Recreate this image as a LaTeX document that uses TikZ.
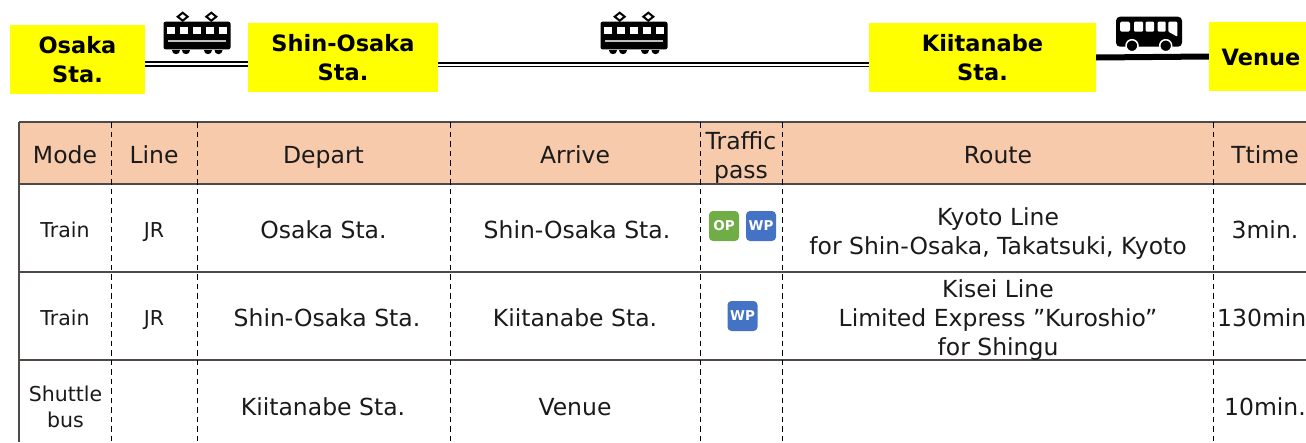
\documentclass[tikz,border=0pt]{standalone}
\usepackage{fontspec}
\setmainfont{DejaVu Sans}
\usetikzlibrary{calc}
\definecolor{stationyellow}{HTML}{FFFF00}
\definecolor{headfill}{HTML}{F7CAAC}
\definecolor{rulegray}{HTML}{4F4A48}
\definecolor{opgreen}{HTML}{70AD47}
\definecolor{wpblue}{HTML}{4472C4}
\definecolor{txt}{HTML}{1A1A1A}
\newcommand{\fs}[2]{\fontsize{#1}{#2}\selectfont}
\tikzset{
  x=1pt,y=-1pt,
  station/.style={fill=stationyellow,inner sep=0pt,align=center,font=\fs{22.5}{29}\bfseries,text=black,minimum height=69pt},
  cellA/.style={inner sep=0pt,align=center,font=\fs{23.5}{29},text=txt},
  cellB/.style={inner sep=0pt,align=center,font=\fs{20.5}{26},text=txt},
  one/.style={text height=19pt,text depth=3pt},
  oneB/.style={text height=18pt,text depth=3pt},
  rail/.style={draw=black,line width=1.7pt,double=white,double distance=2pt},
  road/.style={draw=black,line width=6pt},
  hrule/.style={draw=rulegray,line width=1.3pt},
  vdash/.style={draw=black,line width=1pt,dash pattern=on 5.5pt off 4pt},
  badge/.style={rounded corners=4pt,minimum width=30pt,minimum height=30pt,inner sep=0pt,text=white,font=\fs{13.5}{16}\bfseries},
  pics/trainicon/.style={code={
    \fill[black,rounded corners=2pt] (-33.5,-15.3) rectangle (33.5,12.3);
    \foreach \wx in {-26,-13.2,0,13.2,26}{\fill[white] (\wx-3.8,-10.3) rectangle (\wx+3.8,-2.7);}
    \fill[white!75!black] (-29,3) rectangle (29,5.3);
    \foreach \px in {-14.3,14.3}{
      \draw[black,line width=2pt,fill=white] (\px,-24.3) -- (\px+5,-20.3) -- (\px,-16.3) -- (\px-5,-20.3) -- cycle;}
    \foreach \wx in {-21,-11,11,21.5}{\fill[black] (\wx-4,13.2) arc[start angle=180,end angle=360,radius=4pt] -- cycle;}
  }},
  pics/busicon/.style={code={
    \fill[black,rounded corners=4pt] (-33,-16.3) rectangle (33,13.7);
    \fill[white,rounded corners=1.5pt] (-29,-11.3) rectangle (-19,-1.3);
    \fill[white,rounded corners=1pt] (-15,-11.3) rectangle (-6,-1.3);
    \fill[white,rounded corners=1pt] (-3.3,-11.3) rectangle (5,-1.3);
    \fill[white,rounded corners=1pt] (8.7,-11.3) rectangle (16.7,-1.3);
    \fill[white,rounded corners=1pt] (19.3,-11.3) -- (28.3,-11.3) -- (28.3,3.7) -- (19.3,-1.3) -- cycle;
    \foreach \wx in {-17,16.7}{\draw[white,line width=1.5pt,fill=black] (\wx,12.7) circle[radius=6pt];}
  }},
}
\begin{document}
\begin{tikzpicture}
\useasboundingbox (0,0) rectangle (1306,442);
\begin{scope}
\clip (0,0) rectangle (1306,442);
% table
\fill[headfill] (19,122) rectangle (1306,184);
\coordinate (tl) at (19,122);
\coordinate (bl) at (19,442);
\foreach \yy in {122,184,272,360}{\draw[hrule] (19,\yy) -- (1306,\yy);}
\draw[hrule] (tl) -- (bl);
\foreach \xx in {111,197,450,700,782,1213}{\draw[vdash] (\xx,122) -- (\xx,442);}
% header
\node[cellA,one] (h1) at (65,155.5) {Mode};
\node[cellA,one] (h2) at (154,155.5) {Line};
\node[cellA,one] (h3) at (323.5,155.5) {Depart};
\node[cellA,one] (h4) at (575,155.5) {Arrive};
\node[cellA] (h5) at (741,158) {Traffic\\pass};
\node[cellA,one] (h6) at (998,155.5) {Route};
\node[cellA,one] (h7) at (1265,155.5) {Ttime};
% row 1
\node[cellB,oneB] (a1) at (65,230) {Train};
\node[cellB,oneB] (a2) at (154,230) {JR};
\node[cellA,one] (a3) at (323.5,230) {Osaka Sta.};
\node[cellA,one] (a4) at (577,230) {Shin-Osaka Sta.};
\node[badge,fill=opgreen] (op1) at (724,226) {OP};
\node[badge,fill=wpblue] (wp1) at (761,226) {WP};
\node[cellA] (a6) at (998,233.5) {Kyoto Line\\for Shin-Osaka, Takatsuki, Kyoto};
\node[cellA,one] (a7) at (1265,230) {3min.};
% row 2
\node[cellB,oneB] (b1) at (65,318) {Train};
\node[cellB,oneB] (b2) at (154,318) {JR};
\node[cellA,one] (b3) at (327,318) {Shin-Osaka Sta.};
\node[cellA,one] (b4) at (575,318) {Kiitanabe Sta.};
\node[badge,fill=wpblue] (wp2) at (742.5,316) {WP};
\node[cellA] (b6) at (998,320.5) {Kisei Line\\Limited Express ”Kuroshio”\\for Shingu};
\node[cellA,one,anchor=west] (b7) at (1217,318) {130min};
% row 3
\node[cellB] (c1) at (65.5,407) {Shuttle\\bus};
\node[cellA,one] (c3) at (323,407) {Kiitanabe Sta.};
\node[cellA,one] (c4) at (575,407) {Venue};
\node[cellA,one] (c7) at (1265,407) {10min.};
% stations
\node[station,minimum width=135pt] (osaka) at (77.5,59.5) {Osaka\\Sta.};
\node[station,minimum width=190pt] (shin) at (343,57.5) {Shin-Osaka\\Sta.};
\node[station,minimum width=227pt] (kii) at (982.5,57.5) {Kiitanabe\\Sta.};
\node[station,minimum width=104pt,text height=18.4pt,text depth=0pt] (venue) at (1261,56.5) {Venue};
% connectors
\draw[rail] ([yshift=-4.5pt]osaka.east) -- ([yshift=-6.5pt]shin.west);
\draw[rail] ([yshift=-7pt]shin.east) -- ([yshift=-7pt]kii.west);
\draw[road] (kii.east) -- (venue.west);
% icons
\pic at (197,37) {trainicon};
\pic at (634,37) {trainicon};
\pic at (1149,33) {busicon};
\end{scope}
\end{tikzpicture}
\end{document}
